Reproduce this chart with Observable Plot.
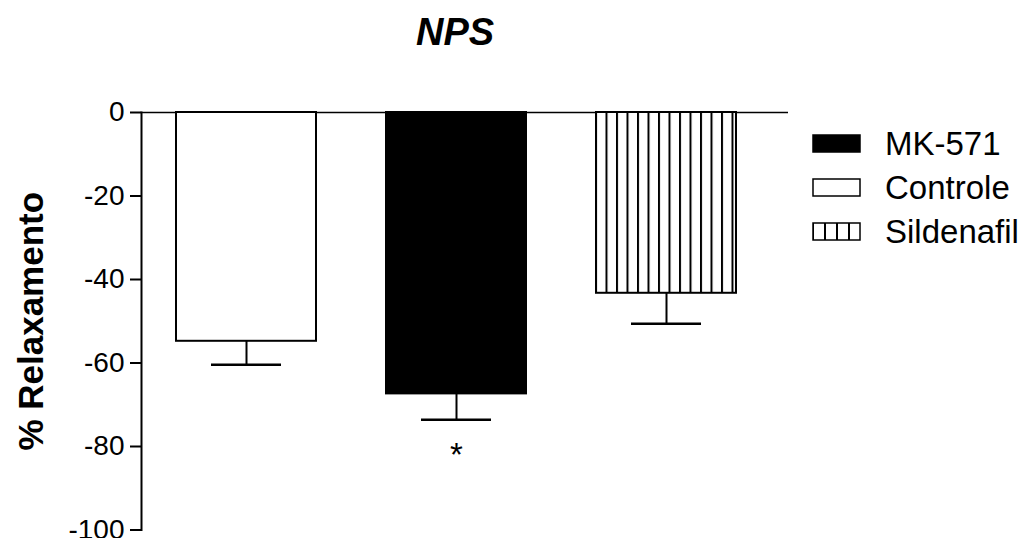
<!DOCTYPE html>
<html><head><meta charset="utf-8">
<script src="https://cdn.jsdelivr.net/npm/d3@7"></script>
<script src="https://cdn.jsdelivr.net/npm/@observablehq/plot@0.6"></script>
<style>
body{margin:0;background:#fff;}
#chart{position:relative;width:1026px;height:538px;}
</style>
</head><body><div id="chart"></div>
<script>
const groups = ["Controle", "MK-571", "Sildenafil"];
const means = [-54.8, -67.4, -43.3];
const sems = [5.6, 6.2, 7.3];
const significance = ["", "*", ""];
const yTicks = [0, -20, -40, -60, -80, -100];
const legendOrder = ["MK-571", "Controle", "Sildenafil"];
const fills = {"Controle": "white", "MK-571": "black", "Sildenafil": "url(#stripes)"};
const legendFills = {"Controle": "white", "MK-571": "black", "Sildenafil": "url(#stripesLegend)"};
const titleText = "NPS";
const yLabel = "% Relaxamento";

const FONT = "'Liberation Sans', Arial, Helvetica, sans-serif";
const data = groups.map((g, i) => ({group: g, mean: means[i], low: means[i] - sems[i], sig: significance[i]}));

const plot = Plot.plot({
  width: 1026,
  height: 538,
  marginLeft: 141,
  marginRight: 238,
  marginTop: 112,
  marginBottom: 8.5,
  style: {fontFamily: FONT, color: "black", background: "white", overflow: "visible"},
  x: {domain: groups, range: [141, 771], paddingInner: 1/3, paddingOuter: 1/6, axis: null},
  y: {domain: [-100, 0], axis: null},
  marks: [
    Plot.ruleY([0], {stroke: "black", strokeWidth: 1.5}),
    Plot.frame({anchor: "left", stroke: "black", strokeWidth: 2}),
    Plot.axisY({ticks: yTicks, tickSize: 11, tickPadding: 6, fontSize: 28, fontFamily: FONT, strokeWidth: 2, label: null, tickFormat: d => d === 0 ? "0" : "-" + Math.abs(d)}),
    ...groups.map(g => Plot.barY(data.filter(d => d.group === g), {x: "group", y: "mean", fill: fills[g], stroke: "black", strokeWidth: 2})),
    Plot.ruleX(data, {x: "group", y1: "mean", y2: "low", stroke: "black", strokeWidth: 2}),
    Plot.tickY(data, {x: "group", y: "low", stroke: "black", strokeWidth: 2.5, insetLeft: 35, insetRight: 35}),
    Plot.text(data, {x: "group", y: "low", text: "sig", dy: 36, fontSize: 33, lineAnchor: "middle", fill: "black"}),
    Plot.text([titleText], {frameAnchor: "top", dx: -10, dy: -80, lineAnchor: "middle", fontSize: 38, fontWeight: "bold", fontStyle: "italic", fill: "black"}),
    Plot.text([yLabel], {frameAnchor: "left", rotate: -90, dx: -110, textAnchor: "middle", lineAnchor: "middle", fontSize: 35, fontWeight: "bold", fill: "black"})
  ]
});

const svg = d3.select(plot);
const xs = plot.scale("x");
const sx = xs.apply("Sildenafil");
const defs = svg.insert("defs", ":first-child");
function stripes(id, x0, w) {
  const p = defs.append("pattern").attr("id", id).attr("patternUnits", "userSpaceOnUse")
    .attr("x", x0 - 1).attr("y", 0).attr("width", w).attr("height", 10);
  p.append("rect").attr("width", w).attr("height", 10).attr("fill", "white");
  p.append("line").attr("x1", 1).attr("x2", 1).attr("y1", 0).attr("y2", 10).attr("stroke", "black").attr("stroke-width", 2);
}
stripes("stripes", sx, 10.5);

// legend
const lgX = 813, lgW = 47, lgH = 17, lgY0 = 143.5, lgStep = 44;
stripes("stripesLegend", lgX, 12);
const lg = svg.append("g").attr("font-family", FONT).attr("text-anchor", "start");
legendOrder.forEach((name, i) => {
  const cy = lgY0 + i * lgStep;
  lg.append("rect").attr("x", lgX).attr("y", cy - lgH / 2).attr("width", lgW).attr("height", lgH)
    .attr("fill", legendFills[name]).attr("stroke", "black").attr("stroke-width", 1.5);
  lg.append("text").attr("x", 885).attr("y", cy).attr("dy", "0.36em").attr("font-size", 33)
    .attr("text-anchor", "start").attr("fill", "black").text(name);
});

document.getElementById("chart").appendChild(plot);
</script>
</body></html>
